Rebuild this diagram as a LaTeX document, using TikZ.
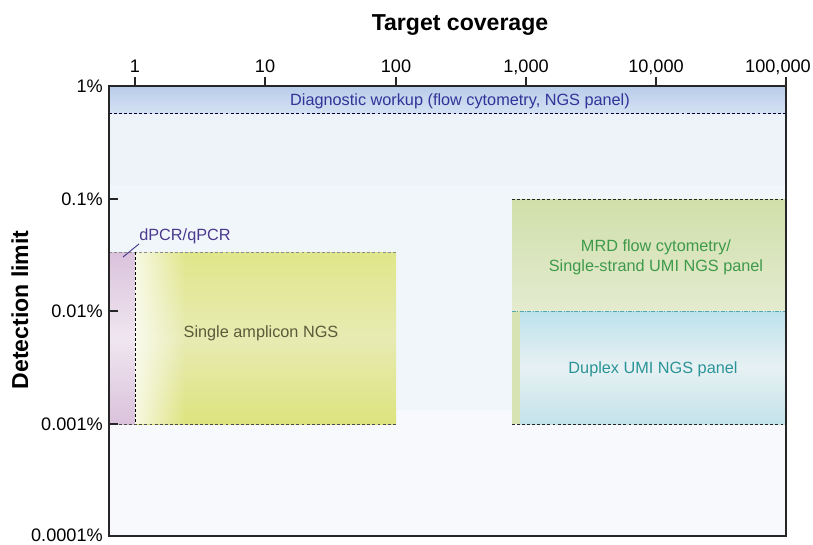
\documentclass[tikz,border=0pt]{standalone}
\usepackage{fontspec}
\setmainfont{Liberation Sans}
\usetikzlibrary{positioning,fadings}

\definecolor{bgtop}{HTML}{EDF3F8}
\definecolor{bgmid}{HTML}{F1F6FA}
\definecolor{bglow}{HTML}{F7F9FC}
\definecolor{diagtop}{HTML}{B8CCEA}
\definecolor{diagbot}{HTML}{D5E1F3}
\definecolor{diagtext}{HTML}{333399}
\definecolor{pcrdark}{HTML}{DAC2DC}
\definecolor{pcrlight}{HTML}{F0E6F0}
\definecolor{pcrtext}{HTML}{4B3A8E}
\definecolor{amptop}{HTML}{E0E68A}
\definecolor{ampmid}{HTML}{E7EBB2}
\definecolor{ampbot}{HTML}{DDE37E}
\definecolor{amptext}{HTML}{5B5B3A}
\definecolor{mrdtop}{HTML}{D0DFAA}
\definecolor{mrdbot}{HTML}{E4EBD0}
\definecolor{mrdstrip}{HTML}{D8E3B4}
\definecolor{mrdtext}{HTML}{3E9A4B}
\definecolor{duptop}{HTML}{BDE2EC}
\definecolor{dupmid}{HTML}{E7F1F3}
\definecolor{dupbot}{HTML}{C2E3EA}
\definecolor{duptext}{HTML}{2A9498}

\begin{document}
\begin{tikzpicture}[x=0.75pt,y=-0.75pt]
  \tikzset{ticklabel/.style = {font=\fontsize{13.6}{15}\selectfont,inner sep=0pt}}
  \tikzset{boxlabel/.style = {font=\fontsize{12.2}{15}\selectfont,align=center,inner sep=0pt}}
  \tikzset{axistitle/.style = {font=\fontsize{17.3}{20}\selectfont\bfseries,inner sep=0pt}}
  \tikzset{limit/.style = {line width=0.7pt,dash pattern=on 2.2pt off 1.6pt}}

  \useasboundingbox (0,0) rectangle (813,544);

  % background bands of the plot area
  \fill[bgtop] (109,86) rectangle (786,185);
  \fill[bgmid] (109,185) rectangle (786,410);
  \fill[bglow] (109,410) rectangle (786,536);

  % diagnostic workup
  \shade[top color=diagtop,bottom color=diagbot] (109,86) rectangle (786,113);
  \draw[limit,black!80!blue] (109,113) -- (786,113);

  % dPCR/qPCR and single amplicon NGS
  \shade[top color=pcrdark,bottom color=pcrdark,middle color=pcrlight] (109,252) rectangle (135,424);
  \shade[top color=amptop,bottom color=ampbot,middle color=ampmid] (135,252) rectangle (396,424);
  \begin{scope}
    \clip (135,252) rectangle (396,424);
    \fill[white,path fading=east] (120,252) rectangle (186,424);
  \end{scope}
  \draw[limit,black!45] (109,252) -- (396,252);
  \draw[limit,black!70] (109,424) -- (396,424);
  \draw[limit,black] (135,252) -- (135,424);

  % MRD flow cytometry and duplex UMI
  \shade[top color=mrdtop,bottom color=mrdbot] (512,199) rectangle (786,311);
  \fill[mrdstrip] (512,311) rectangle (520,424);
  \shade[top color=duptop,bottom color=dupbot,middle color=dupmid] (520,311) rectangle (786,424);
  \draw[limit,black!85] (512,199) -- (786,199);
  \draw[line width=0.7pt,duptext!80,dash pattern=on 3pt off 1pt on 0.8pt off 1pt] (512,311) -- (786,311);
  \draw[limit,black!85] (512,424) -- (786,424);

  % frame and ticks
  \draw[line width=1.1pt,black!85] (109,86) rectangle (786,536);
  \foreach \x/\lab in {135/1, 265/10, 396/100, 526/{1,000}, 656/{10,000}} {
    \draw[line width=1pt,black!85] (\x,86) -- (\x,77);
    \node[ticklabel,anchor=base] at (\x,72) {\lab};
  }
  \draw[line width=1pt,black!85] (786,86) -- (786,77);
  \node[ticklabel,anchor=base] (xmax) at (778,72) {100,000};
  \foreach \y/\lab in {86/1\%, 199/0.1\%, 311/0.01\%, 424/0.001\%} {
    \draw[line width=1pt,black!85] (109,\y) -- (118,\y);
    \node[ticklabel,anchor=base east] at (103,\y+6.5) {\lab};
  }
  \draw[line width=1pt,black!85] (109,536) -- (118,536);
  \node[ticklabel,anchor=base east] (ymin) at (103,541.5) {0.0001\%};

  % axis titles
  \node[axistitle,anchor=base] (xtitle) at (460,30) {Target coverage};
  \node[axistitle,rotate=90] (ytitle) at (20,310) {Detection limit};

  % box labels
  \node[boxlabel,text=diagtext] (diag) at (460,101) {Diagnostic workup (flow cytometry, NGS panel)};
  \node[boxlabel,text=amptext] (ampl) at (261,333) {Single amplicon NGS};
  \node[boxlabel,text=mrdtext] (mrd) at (656,257) {MRD flow cytometry/\\Single-strand UMI NGS panel};
  \node[boxlabel,text=duptext] (duplex) at (653,369) {Duplex UMI NGS panel};
  \node[boxlabel,text=pcrtext] (pcr) at (185,236) {dPCR/qPCR};
  \coordinate (pcrtip) at (123,257);
  \draw[pcrtext,line width=0.7pt] (pcr.south west) -- (pcrtip);
\end{tikzpicture}
\end{document}
